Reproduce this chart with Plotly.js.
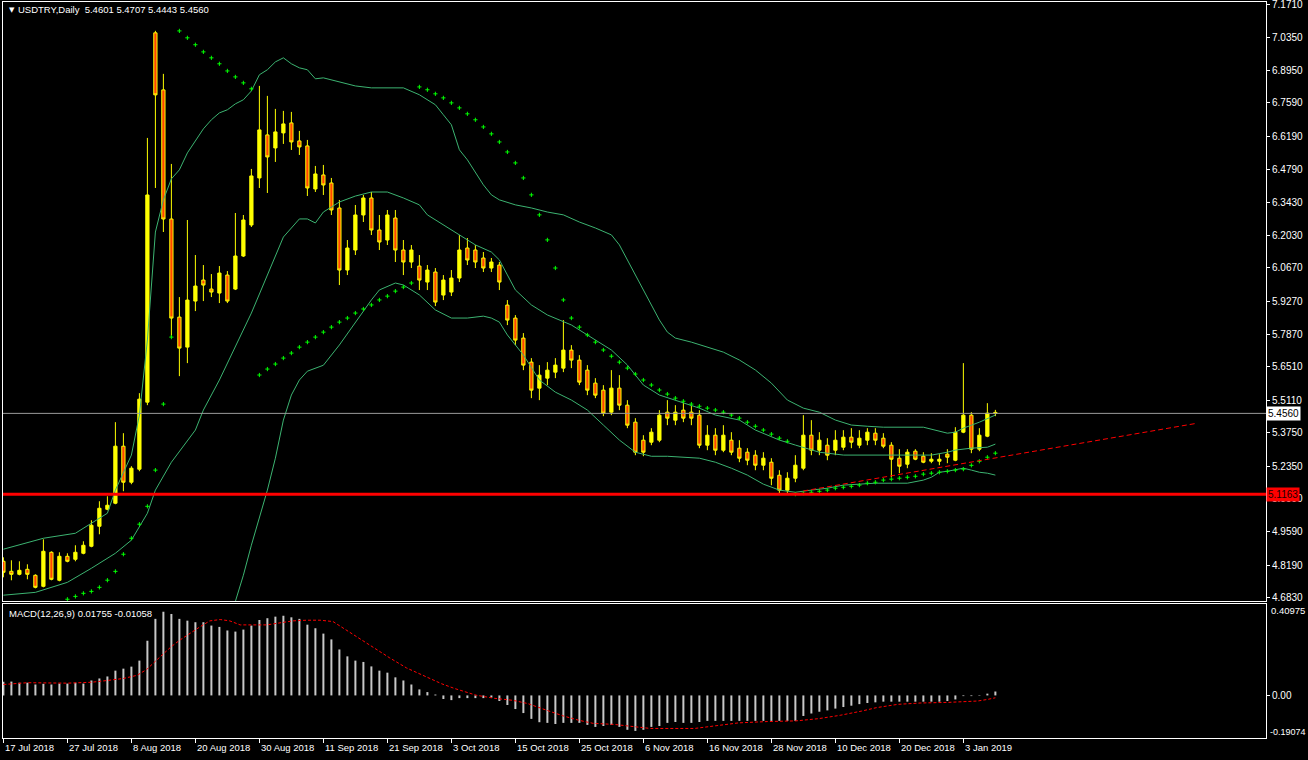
<!DOCTYPE html>
<html><head><meta charset="utf-8">
<script src="https://cdn.plot.ly/plotly-3.0.1.min.js"></script>
<style>html,body{margin:0;padding:0;background:#000;}#chart{width:1308px;height:760px;}</style>
</head><body><div id="chart"></div>
<script>
// ---- data ----
const dateIdx = [0,8,16,24,32,40,48,56,64,72,80,88,96,104,112,120];
const dateLabels = ["17 Jul 2018","27 Jul 2018","8 Aug 2018","20 Aug 2018","30 Aug 2018","11 Sep 2018","21 Sep 2018","3 Oct 2018","15 Oct 2018","25 Oct 2018","6 Nov 2018","16 Nov 2018","28 Nov 2018","10 Dec 2018","20 Dec 2018","3 Jan 2019"];
const priceTicks = [7.1710,7.0350,6.8950,6.7590,6.6190,6.4790,6.3430,6.2030,6.0670,5.9270,5.7870,5.6510,5.5110,5.3750,5.2350,5.0990,4.9590,4.8190,4.6830];

const open = [4.8353,4.7933,4.7807,4.8017,4.7765,4.7303,4.8731,4.7555,4.8563,4.8437,4.8689,4.8983,4.9823,5.0537,5.0789,5.3183,5.1671,5.2217,5.5031,7.0529,6.8135,6.2717,5.8601,5.7341,5.9273,6.0155,5.9777,5.9609,6.0365,5.9777,6.1163,6.2465,6.4439,6.6245,6.5699,6.6329,6.6749,6.5993,6.5783,6.3977,
6.4565,6.4229,6.3179,6.0575,6.1415,6.2885,6.3599,6.2255,6.1835,6.2759,
6.1415,6.0911,6.0743,6.0071,6.0491,5.9525,5.9651,6.0239,6.1499,6.1415,
6.1079,6.0659,6.0785,5.9105,5.8559,5.7719,5.6711,5.5619,5.6039,5.6291,
5.6459,5.7215,5.6795,5.6375,5.5829,5.5535,5.4611,5.5619,5.4905,5.4191,
5.3435,5.3351,5.3435,5.4611,5.4275,5.4695,5.4611,5.4485,5.3225,5.3645,
5.3015,5.3435,5.3099,5.2931,5.2805,5.2385,5.2511,5.1965,5.1335,5.1839,
5.2259,5.3645,5.3015,5.3225,5.3015,5.3141,5.3561,5.3225,5.3435,5.3729,
5.3519,5.3225,5.2679,5.2427,5.2973,5.2763,5.2553,5.2553,5.2847,5.2595,
5.3771,5.4485,5.3057,5.3603,5.4601];
const high = [4.8521,4.8395,4.8353,4.8227,4.7807,4.9277,4.8773,4.8731,4.8689,4.9025,
4.9193,5.0075,5.0873,5.1083,5.4191,5.3729,5.2343,5.5409,6.6119,7.0613,
6.8807,6.5027,5.9441,6.2675,6.1205,6.0785,6.0407,6.0743,6.0533,6.2969,
6.2885,6.4817,6.8303,6.7883,6.7337,6.7253,6.7211,6.6413,6.6035,6.4943,
6.4985,6.4439,6.3515,6.1835,6.3305,6.3725,6.3851,6.2885,6.3095,6.3095,
6.1835,6.1625,6.1205,6.0785,6.0659,6.0365,6.0575,6.2045,6.1919,6.1625,
6.1331,6.1079,6.0911,5.9315,5.8685,5.7929,5.6879,5.6585,5.6711,5.6879,
5.8475,5.7425,5.7005,5.6585,5.6039,5.5745,5.6375,5.6165,5.5115,5.4359,
5.3645,5.3939,5.4695,5.5115,5.4905,5.5031,5.4905,5.4695,5.4065,5.3939,
5.4065,5.3771,5.3435,5.3099,5.3015,5.2931,5.2679,5.2175,5.2091,5.2805,
5.4485,5.4275,5.3771,5.3519,5.3855,5.3855,5.3939,5.3855,5.3939,5.3939,
5.3729,5.3351,5.3057,5.3057,5.3057,5.2931,5.2889,5.2847,5.3057,5.3981,
5.6669,5.4611,5.3939,5.4989,5.4707];
const low = [4.7681,4.7555,4.7765,4.7597,4.7219,4.7261,4.7555,4.7513,4.8311,4.8353,
4.8647,4.8941,4.9487,5.0495,5.0747,5.1293,5.1587,5.2133,5.4905,6.4019,
6.2171,5.7761,5.6123,5.6669,5.8853,5.9273,5.9441,5.9189,5.9189,5.9735,
6.1121,6.2381,6.4019,6.3809,6.5111,6.5867,6.5615,6.5405,6.3683,6.3851,
6.3725,6.2885,5.9945,6.0365,6.1205,6.2591,6.2045,6.1415,6.1625,6.0911,
6.0365,6.0659,5.9735,5.9735,5.9063,5.9315,5.9483,6.0071,6.0785,6.0659,
6.0491,6.0491,5.9735,5.8265,5.7425,5.6375,5.5199,5.5115,5.5745,5.6039,
5.6291,5.6459,5.5745,5.5325,5.5199,5.4443,5.4485,5.4695,5.3939,5.2805,
5.2763,5.3225,5.3351,5.4065,5.4065,5.4191,5.4065,5.3099,5.3015,5.2805,
5.2931,5.2805,5.2511,5.2385,5.2175,5.2175,5.1545,5.1209,5.1167,5.1671,
5.2175,5.2805,5.2805,5.2595,5.2805,5.3015,5.3099,5.3099,5.3225,5.3225,
5.3099,5.1881,5.2049,5.2259,5.2595,5.2469,5.2469,5.2385,5.2469,5.2553,
5.3729,5.2889,5.2973,5.3561,5.4443];
const close = [4.7891,4.7807,4.7975,4.7807,4.7261,4.8773,4.7597,4.8563,4.8353,4.8731,
4.9025,4.9865,5.0579,5.0705,5.3183,5.1671,5.2259,5.5157,6.3725,6.7925,
6.2717,5.8559,5.7299,5.9315,5.9903,5.9945,5.9651,6.0449,5.9273,6.1163,
6.2675,6.4523,6.6455,6.5321,6.6371,6.6707,6.5951,6.5741,6.4019,6.4607,
6.4145,6.3095,6.0575,6.1499,6.2885,6.3599,6.2255,6.1751,6.2885,6.1415,
6.0911,6.1415,6.0155,6.0575,5.9231,6.0155,6.0239,6.1415,6.0995,6.0911,
6.0659,6.0911,6.0071,5.8475,5.7635,5.6585,5.5535,5.6165,5.6375,5.6585,
5.7215,5.6795,5.5871,5.5535,5.5325,5.4569,5.5619,5.4905,5.4065,5.2931,
5.2931,5.3771,5.4485,5.4359,5.4611,5.4359,5.4359,5.3225,5.3645,5.3015,
5.3645,5.2931,5.2679,5.2595,5.2385,5.2679,5.1839,5.1335,5.1839,5.2385,
5.3645,5.3015,5.3435,5.2805,5.3435,5.3561,5.3351,5.3519,5.3771,5.3435,
5.3183,5.2637,5.2343,5.2931,5.2637,5.2511,5.2637,5.2637,5.2721,5.3771,
5.4485,5.3057,5.3645,5.4569,5.4560];

// Bollinger bands (bar index, price)
const bbUpperIdx = [0,5,9,13,14,16,17,18,19,20,21,22,23,24,25,26,27,28,29,30,31,32,33,34,35,36,37,38,39,40,42,44,46,48,50,52,54,55,56,57,58,60,61,62,64,66,68,70,72,74,76,77,78,80,82,83,84,86,88,90,92,94,96,98,100,102,104,106,108,110,115,117,118,119,120,122,124];
const bbUpper = [4.886,4.932,4.953,5.037,5.134,5.281,5.449,5.764,6.217,6.352,6.440,6.478,6.549,6.599,6.650,6.688,6.717,6.730,6.755,6.772,6.809,6.877,6.898,6.931,6.948,6.923,6.906,6.898,6.860,6.864,6.847,6.830,6.822,6.822,6.822,6.793,6.751,6.709,6.667,6.562,6.520,6.415,6.373,6.352,6.331,6.318,6.301,6.289,6.259,6.234,6.205,6.163,6.100,5.974,5.848,5.797,5.772,5.755,5.734,5.713,5.680,5.638,5.583,5.512,5.478,5.461,5.428,5.407,5.402,5.398,5.398,5.381,5.373,5.377,5.394,5.419,5.449];
const bbMidIdx = [0,4,8,11,14,16,18,19,21,24,25,27,31,35,37,38,39,40,42,44,46,48,50,52,53,55,57,59,61,62,63,64,66,68,71,73,76,78,80,82,84,87,89,92,94,97,99,102,105,110,116,118,119,121,123,124];
const bbMid = [4.693,4.705,4.747,4.806,4.869,4.924,5.037,5.134,5.251,5.386,5.470,5.596,5.877,6.196,6.272,6.272,6.255,6.301,6.343,6.368,6.385,6.385,6.360,6.331,6.289,6.247,6.205,6.163,6.133,6.100,6.037,5.974,5.911,5.869,5.827,5.785,5.722,5.659,5.575,5.533,5.512,5.478,5.449,5.428,5.386,5.344,5.323,5.293,5.281,5.281,5.281,5.293,5.302,5.310,5.314,5.327];
const bbLowerIdx = [29,30,31,33,34,35,36,37,38,39,40,42,44,46,47,48,49,50,52,54,56,58,60,61,62,63,65,67,69,71,73,75,77,79,81,83,85,87,89,91,93,95,97,99,101,103,105,107,109,113,115,116,117,118,119,120,121,122,123,124];
const bbLower = [4.667,4.777,4.903,5.134,5.268,5.428,5.533,5.596,5.633,5.646,5.658,5.743,5.839,5.932,5.974,5.990,6.003,5.995,5.953,5.890,5.856,5.856,5.864,5.856,5.839,5.785,5.701,5.596,5.545,5.512,5.470,5.407,5.344,5.293,5.276,5.276,5.272,5.268,5.251,5.226,5.197,5.159,5.134,5.125,5.134,5.142,5.155,5.159,5.163,5.163,5.176,5.188,5.209,5.213,5.218,5.226,5.218,5.209,5.205,5.197];

// Parabolic SAR
const sarIdx = [8,9,10,11,12,13,14,15,16,17,18,19,20,21,22,23,24,25,26,27,28,29,30,31,32,33,34,35,36,37,38,39,40,41,42,43,44,45,46,47,48,49,50,51,52,53,54,55,56,57,58,59,60,61,62,63,64,65,66,67,68,69,70,71,72,73,74,75,76,77,78,79,80,81,82,83,84,85,86,87,88,89,90,91,92,93,94,95,96,97,98,99,100,101,102,103,104,105,106,107,108,109,110,111,112,113,114,115,116,117,118,119,120,121,122,123,124];
const sar = [4.676,4.688,4.701,4.709,4.726,4.756,4.793,4.865,4.932,4.991,5.066,5.218,5.495,5.776,7.061,7.032,7.003,6.973,6.948,6.923,6.893,6.868,6.843,6.818,5.617,5.642,5.663,5.688,5.709,5.734,5.755,5.776,5.797,5.818,5.839,5.856,5.877,5.894,5.911,5.932,5.948,5.969,5.986,6.003,6.826,6.814,6.797,6.780,6.759,6.738,6.713,6.688,6.658,6.629,6.595,6.553,6.507,6.444,6.373,6.289,6.184,6.066,5.932,5.856,5.818,5.785,5.755,5.722,5.696,5.671,5.646,5.621,5.596,5.575,5.554,5.537,5.520,5.507,5.495,5.486,5.478,5.470,5.461,5.449,5.436,5.419,5.402,5.386,5.369,5.352,5.339,5.117,5.121,5.125,5.129,5.134,5.142,5.146,5.150,5.155,5.163,5.167,5.176,5.180,5.184,5.188,5.192,5.201,5.205,5.209,5.213,5.218,5.222,5.238,5.255,5.272,5.289];

// levels and trend line
const supportLevel = 5.1163;
const lastPrice = 5.4560;
const trendIdx = [100, 149.2];
const trendPrice = [5.1305, 5.4145];

// MACD(12,26,9)
const macdHist = [0.061,0.062,0.057,0.057,0.049,0.052,0.049,0.053,0.053,0.057,
0.053,0.067,0.076,0.085,0.111,0.120,0.129,0.156,0.245,0.343,
0.375,0.365,0.343,0.335,0.328,0.328,0.313,0.307,0.291,0.286,
0.295,0.313,0.338,0.346,0.353,0.357,0.350,0.343,0.317,0.301,
0.277,0.251,0.206,0.175,0.156,0.150,0.130,0.111,0.102,0.081,
0.067,0.049,0.027,0.015,0.004,-0.016,-0.021,-0.012,-0.012,-0.012,
-0.012,-0.010,-0.025,-0.043,-0.061,-0.079,-0.105,-0.120,-0.123,-0.128,
-0.123,-0.123,-0.123,-0.132,-0.141,-0.137,-0.132,-0.141,-0.154,-0.159,
-0.154,-0.141,-0.137,-0.123,-0.119,-0.123,-0.123,-0.119,-0.114,-0.114,
-0.114,-0.114,-0.114,-0.114,-0.114,-0.114,-0.114,-0.114,-0.114,-0.114,
-0.092,-0.081,-0.073,-0.067,-0.059,-0.052,-0.046,-0.039,-0.034,-0.031,
-0.028,-0.028,-0.028,-0.028,-0.028,-0.028,-0.028,-0.028,-0.025,-0.018,
-0.003,-0.003,0.002,0.008,0.01755];
const sigIdx = [0,3,8,11,13,15,16.7,17.9,19.2,21,22.1,23.5,24.6,25.8,27.1,28.3,29.6,32.9,34.6,36.2,37.9,39.6,41.2,42.5,44.2,46.2,48.3,50.4,52.5,54.8,56.4,58,59.1,61.4,63.7,65.5,66.9,68.2,70,71.9,73.7,76.4,79.1,80.9,86.4,89.1,91.9,95.5,99.1,101.9,104.6,107.3,109.1,111.8,114.6,118.2,121.8,123,124];
const sigVal = [0.049,0.057,0.055,0.059,0.067,0.076,0.090,0.116,0.160,0.219,0.249,0.283,0.308,0.334,0.340,0.334,0.316,0.316,0.324,0.334,0.337,0.337,0.331,0.301,0.264,0.219,0.168,0.123,0.090,0.052,0.031,0.012,0.001,-0.013,-0.022,-0.036,-0.055,-0.070,-0.092,-0.111,-0.125,-0.130,-0.141,-0.148,-0.148,-0.137,-0.123,-0.117,-0.114,-0.104,-0.089,-0.070,-0.055,-0.040,-0.034,-0.031,-0.025,-0.018,-0.01058];
const macdTop = 0.40975, macdBottom = -0.19074;

// ---- drawing ----
const barIdx = open.map((_, i) => i);
const FONT = '"Liberation Sans", Arial, sans-serif';
const W = '#ffffff';

const traces = [
  {type:'scatter', mode:'lines', x:bbUpperIdx, y:bbUpper, line:{color:'#3cb371', width:1}, hoverinfo:'skip'},
  {type:'scatter', mode:'lines', x:bbMidIdx, y:bbMid, line:{color:'#3cb371', width:1}, hoverinfo:'skip'},
  {type:'scatter', mode:'lines', x:bbLowerIdx, y:bbLower, line:{color:'#3cb371', width:1}, hoverinfo:'skip'},
  {type:'candlestick', x:barIdx, open:open, high:high, low:low, close:close,
   increasing:{line:{color:'#ffff00', width:1}, fillcolor:'#ffff00'},
   decreasing:{line:{color:'#ffff00', width:1}, fillcolor:'#ff4500'},
   whiskerwidth:0, hoverinfo:'skip'},
  {type:'scatter', mode:'markers', x:sarIdx, y:sar, marker:{symbol:'cross-thin', size:3, color:'#00ff00', line:{color:'#00ff00', width:1}}, hoverinfo:'skip'},
  {type:'scatter', mode:'lines', x:trendIdx, y:trendPrice, line:{color:'#ff0000', width:1, dash:'5px,3px'}, hoverinfo:'skip'},
  {type:'bar', x:barIdx, y:macdHist, width:0.25, marker:{color:'#c8c8c8', line:{width:0}}, xaxis:'x2', yaxis:'y2', hoverinfo:'skip'},
  {type:'scatter', mode:'lines', x:sigIdx, y:sigVal, line:{color:'#ff0000', width:1, dash:'3px,2px'}, xaxis:'x2', yaxis:'y2', hoverinfo:'skip'}
];

const xRange = [-0.05, 157.83];
const annotations = [];
dateIdx.forEach((d, k) => annotations.push({xref:'x2', x:d, yref:'paper', y:-0.0125, xanchor:'left', yanchor:'middle', xshift:0,
  text:dateLabels[k], showarrow:false, font:{family:FONT, size:9.5, color:W}}));
annotations.push({xref:'paper', x:1, xanchor:'left', yref:'y', y:lastPrice, yanchor:'middle', text:lastPrice.toFixed(4), showarrow:false,
  bgcolor:'#ffffff', borderpad:1, font:{family:FONT, size:10, color:'#000000'}});
annotations.push({xref:'paper', x:1, xanchor:'left', yref:'y', y:supportLevel, yanchor:'middle', text:supportLevel.toFixed(4), showarrow:false,
  bgcolor:'#ff0000', borderpad:1, font:{family:FONT, size:10, color:'#200000'}});
annotations.push({xref:'paper', x:1, xanchor:'left', xshift:3, yref:'paper', y:0.173, yanchor:'middle', text:String(macdTop), showarrow:false,
  font:{family:FONT, size:9.5, color:W}});
annotations.push({xref:'paper', x:1, xanchor:'left', xshift:2, yref:'paper', y:0.0077, yanchor:'middle', text:String(macdBottom), showarrow:false,
  font:{family:FONT, size:9, color:W}});
annotations.push({xref:'paper', x:0.0032, xanchor:'left', yref:'paper', y:0.1698, yanchor:'middle',
  text:'MACD(12,26,9) 0.01755 -0.01058', showarrow:false, font:{family:FONT, size:9.5, color:W}});
annotations.push({xref:'paper', x:0.0035, xanchor:'left', yref:'paper', y:0.9891, yanchor:'middle',
  text:'\u25BC', showarrow:false, font:{family:'"DejaVu Sans", sans-serif', size:7, color:W}});

const layout = {
  width:1308, height:760,
  paper_bgcolor:'#000000', plot_bgcolor:'#000000',
  margin:{l:3, r:42, t:2, b:22},
  showlegend:false,
  boxgap:0.42,
  title:{text:'USDTRY,Daily\u00a0\u00a05.4601 5.4707 5.4443 5.4560', x:18/1308, xref:'container', xanchor:'left',
         y:1-10/760, yref:'container', yanchor:'middle', font:{family:FONT, size:9.5, color:W}},
  xaxis:{domain:[0,1], anchor:'y', range:xRange, showgrid:false, zeroline:false, showline:true, mirror:true,
         linecolor:W, linewidth:1, showticklabels:false, ticks:'', rangeslider:{visible:false}, fixedrange:true},
  yaxis:{domain:[0.1855,1], anchor:'x', range:[4.6667, 7.1823], side:'right', showgrid:false, zeroline:false,
         showline:true, mirror:true, linecolor:W, linewidth:1, ticks:'outside', ticklen:3, tickcolor:W,
         tickvals:priceTicks, ticktext:priceTicks.map(v => v.toFixed(4)), ticklabeloverflow:'allow',
         tickfont:{family:FONT, size:10, color:W}, fixedrange:true},
  xaxis2:{domain:[0,1], anchor:'y2', matches:'x', range:xRange, showgrid:false, zeroline:false, showline:true, mirror:true,
          linecolor:W, linewidth:1, ticks:'outside', ticklen:4, tickcolor:W, tickvals:dateIdx, showticklabels:false, fixedrange:true},
  yaxis2:{domain:[0,0.1821], anchor:'x2', range:[macdBottom, macdTop], side:'right', showgrid:false, zeroline:false,
          showline:true, mirror:true, linecolor:W, linewidth:1, ticks:'outside', ticklen:3, tickcolor:W,
          tickvals:[0], ticktext:['0.00'], tickfont:{family:FONT, size:10, color:W}, fixedrange:true},
  shapes:[
    {type:'line', xref:'paper', x0:0, x1:1, yref:'y', y0:lastPrice, y1:lastPrice, line:{color:'#9a9a9a', width:1}},
    {type:'line', xref:'paper', x0:0, x1:1, yref:'y', y0:supportLevel, y1:supportLevel, line:{color:'#ff0000', width:3}}
  ],
  annotations:annotations
};

Plotly.newPlot('chart', traces, layout, {displayModeBar:false, staticPlot:true});
</script>
</body></html>
